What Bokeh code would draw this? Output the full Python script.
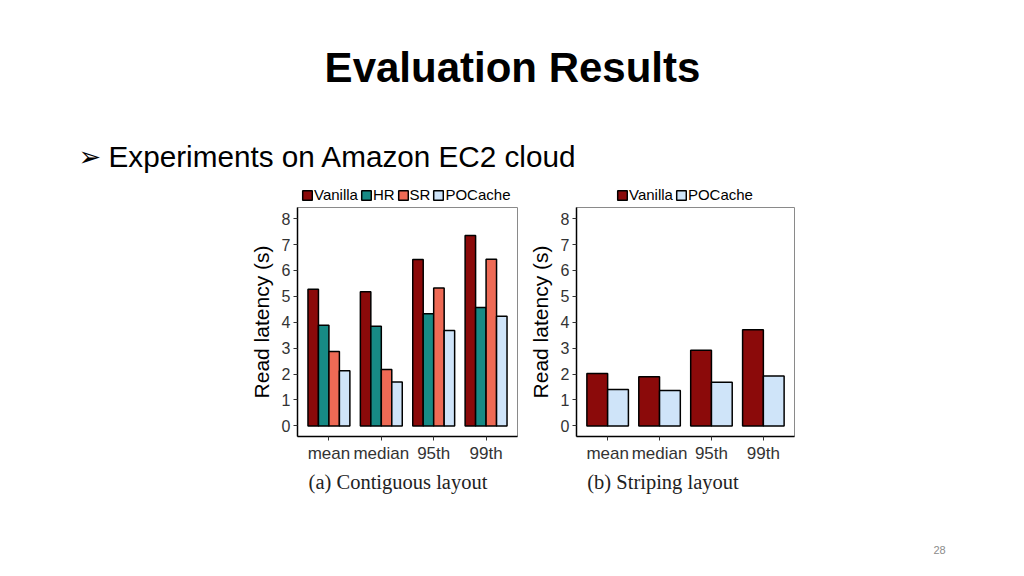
from bokeh.plotting import figure
from bokeh.models import (FactorRange, Range1d, Legend, LegendItem, Label,
                          Spacer, ColumnDataSource, FixedTicker)
from bokeh.transform import dodge
from bokeh.layouts import column, row
from bokeh.embed import file_html
from bokeh.resources import INLINE

# ---------------- data ----------------
percentiles = ["mean", "median", "95th", "99th"]

# (a) Contiguous layout
a_vanilla = [5.27, 5.18, 6.42, 7.35]
a_hr = [3.88, 3.85, 4.33, 4.57]
a_sr = [2.87, 2.18, 5.32, 6.43]
a_pocache = [2.13, 1.69, 3.68, 4.23]

# (b) Striping layout
b_vanilla = [2.02, 1.90, 2.92, 3.71]
b_pocache = [1.40, 1.37, 1.68, 1.93]

y_ticks = [0, 1, 2, 3, 4, 5, 6, 7, 8]
y_label = "Read latency (s)"

title_text = "Evaluation Results"
bullet_mark = "\u27A2"
bullet_text = "Experiments on Amazon EC2 cloud"
caption_a = "(a) Contiguous layout"
caption_b = "(b) Striping layout"
page_number = "28"

COLORS = {"Vanilla": "#8B0A0A", "HR": "#178A85", "SR": "#EE6A55", "POCache": "#CFE4F9"}
SANS = "Liberation Sans"
SERIF = "Liberation Serif"

PAGE_W = 1024
HEADER_H = 175
STRIP_H = 29
PANEL_H = 261
ROW_H = STRIP_H + PANEL_H
FOOTER_H = 576 - HEADER_H - ROW_H


def blank(width, height):
    p = figure(width=width, height=height, x_range=Range1d(0, width),
               y_range=Range1d(height, 0), x_axis_type=None, y_axis_type=None,
               output_backend="svg", toolbar_location=None, min_border=0)
    p.grid.visible = False
    p.outline_line_color = None
    return p


def bars(p, src, series, visible=True):
    n = len(series)
    bw = 0.8 / n
    rends = []
    for i, (name, vals) in enumerate(series):
        off = (i - (n - 1) / 2) * bw
        r = p.vbar(x=dodge("cat", off, range=p.x_range), top=name, width=bw,
                   source=src, fill_color=COLORS[name], line_color="black",
                   line_width=1.5)
        r.visible = visible
        rends.append((name, r))
    return rends


def make_panel(series, width, left, right, legend_x):
    data = {"cat": percentiles}
    for name, vals in series:
        data[name] = vals
    src = ColumnDataSource(data)

    # main panel
    p = figure(width=width, height=PANEL_H, title=None,
               x_range=FactorRange(factors=percentiles, range_padding=0.05),
               y_range=Range1d(-0.41, 8.43),
               output_backend="svg", toolbar_location=None,
               min_border_left=left, min_border_right=right,
               min_border_top=3, min_border_bottom=29)
    bars(p, src, series)
    p.grid.visible = False
    p.outline_line_color = "#8a8a8a"
    p.outline_line_width = 1
    p.background_fill_color = "white"
    for ax in (p.xaxis, p.yaxis):
        ax.axis_line_color = "black"
        ax.axis_line_width = 1.5
        ax.major_tick_line_color = "#333333"
        ax.major_tick_in = 0
        ax.major_tick_out = 4
        ax.minor_tick_line_color = None
        ax.major_label_text_font = SANS
        ax.major_label_text_color = "#333333"
    p.xaxis.major_label_text_font_size = "17px"
    p.xaxis.major_label_standoff = 3
    p.yaxis.ticker = FixedTicker(ticks=y_ticks)
    p.yaxis.major_label_text_font_size = "16px"
    p.yaxis.major_label_standoff = 3
    p.yaxis.axis_label = y_label
    p.yaxis.axis_label_text_font = SANS
    p.yaxis.axis_label_text_font_size = "21px"
    p.yaxis.axis_label_text_font_style = "normal"
    p.yaxis.axis_label_text_color = "black"
    p.yaxis.axis_label_standoff = 6

    # legend strip above the panel (its renderers are hidden; only the legend shows)
    s = figure(width=width, height=STRIP_H, title=None,
               x_range=FactorRange(factors=percentiles, range_padding=0.05),
               y_range=Range1d(-0.41, 8.43), x_axis_type=None, y_axis_type=None,
               output_backend="svg", toolbar_location=None, min_border=0)
    s.grid.visible = False
    s.outline_line_color = None
    rends = bars(s, src, series, visible=False)
    legend = Legend(items=[LegendItem(label=n, renderers=[r]) for n, r in rends],
                    orientation="horizontal", location=(legend_x, 1),
                    border_line_color=None, background_fill_alpha=0,
                    inactive_fill_alpha=0,
                    padding=0, margin=0, spacing=2, label_standoff=1,
                    glyph_width=12, glyph_height=12, label_height=12,
                    label_width=0, label_text_font=SANS,
                    label_text_font_size="15px", label_text_color="black")
    s.add_layout(legend)
    return column(s, p)


# ---------------- header ----------------
header = blank(PAGE_W, HEADER_H)
header.add_layout(Label(x=512, y=67, text=title_text, text_font=SANS,
                        text_font_size="42px", text_font_style="bold",
                        text_align="center", text_baseline="middle",
                        text_color="black"))
header.add_layout(Label(x=78, y=156, text=bullet_mark, text_font="DejaVu Sans",
                        text_font_size="27px", text_align="left",
                        text_baseline="middle", text_color="black"))
header.add_layout(Label(x=108, y=156, text=bullet_text, text_font=SANS,
                        text_font_size="29.7px", text_align="left",
                        text_baseline="middle", text_color="black"))

# ---------------- panels ----------------
panel_a = make_panel([("Vanilla", a_vanilla), ("HR", a_hr), ("SR", a_sr),
                      ("POCache", a_pocache)], 285, 57, 8, 4)
panel_b = make_panel([("Vanilla", b_vanilla), ("POCache", b_pocache)],
                     285, 49, 16, 40)

panels = row(Spacer(width=240, height=ROW_H), panel_a, panel_b,
             Spacer(width=PAGE_W - 240 - 570, height=ROW_H))

# ---------------- footer ----------------
footer = blank(PAGE_W, FOOTER_H)
footer.add_layout(Label(x=397.5, y=16, text=caption_a, text_font=SERIF,
                        text_font_size="20.5px", text_align="center",
                        text_baseline="middle", text_color="#222222"))
footer.add_layout(Label(x=662.5, y=16, text=caption_b, text_font=SERIF,
                        text_font_size="20.5px", text_align="center",
                        text_baseline="middle", text_color="#222222"))
footer.add_layout(Label(x=939, y=84, text=page_number, text_font=SANS,
                        text_font_size="11px", text_align="center",
                        text_baseline="middle", text_color="#8c8c8c"))

page = column(header, panels, footer)

open("out.html", "w").write(file_html(page, INLINE))
